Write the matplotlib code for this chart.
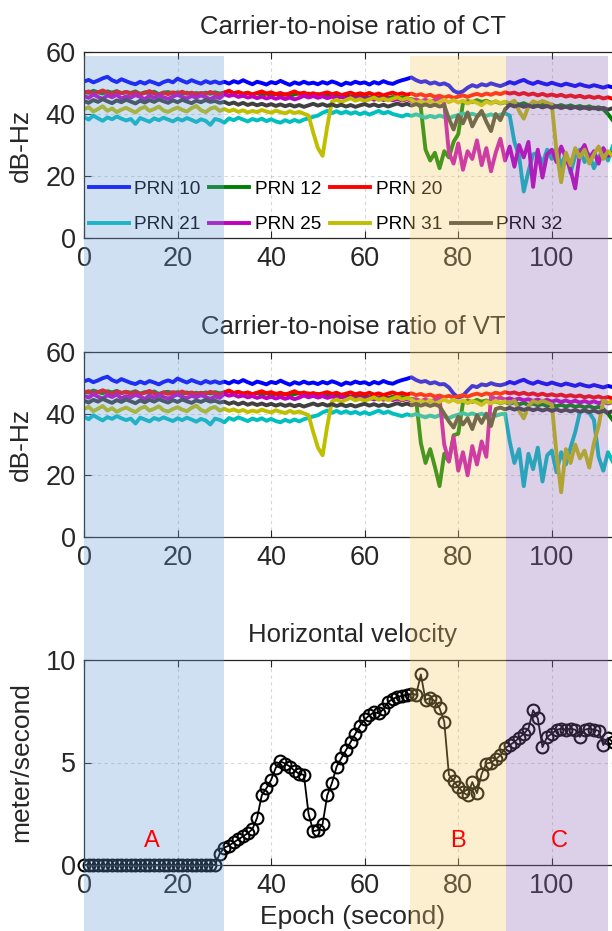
import matplotlib
matplotlib.use('Agg')
import matplotlib.pyplot as plt
import matplotlib.transforms as mtransforms
from matplotlib.patches import Rectangle
from matplotlib.lines import Line2D

plt.rcParams['font.family'] = ['Liberation Sans', 'DejaVu Sans']

# epochs in seconds
epoch = list(range(114))

# ---- C/N0 of CT (dB-Hz), one value per second ----
ct_prn10 = [50.5, 51.0, 50.2, 50.8, 51.5, 52.0, 50.9, 50.3, 51.2, 50.6,
            50.0, 49.6, 50.4, 49.8, 50.6, 50.1, 49.5, 50.3, 50.8, 50.2,
            51.4, 50.7, 50.1, 50.9, 50.3, 49.8, 50.6, 50.0, 50.5, 49.9,
            50.4, 49.8, 50.6, 50.1, 50.9, 50.2, 49.6, 50.4, 50.0, 49.5,
            50.3, 49.9, 50.7, 50.0, 49.4, 50.2, 49.7, 50.4, 49.8, 50.1,
            49.6, 50.3, 49.8, 50.5, 50.0, 49.3, 50.1, 49.7, 50.4, 49.9,
            50.2, 49.5, 50.3, 49.8, 50.6, 50.0, 49.7, 50.4, 50.9, 51.3,
            51.8, 50.9, 50.3, 50.6, 49.8, 50.2, 49.5, 49.9, 49.2, 47.5,
            46.8, 47.3, 48.5, 49.3, 48.8, 49.6, 49.2, 49.9, 49.4, 49.0,
            49.6, 50.3, 49.8, 50.5, 51.0, 50.2, 49.7, 50.4, 49.9, 49.5,
            50.1, 49.6, 49.2, 49.8, 49.4, 49.0, 49.6, 49.1, 48.8, 49.3,
            48.9, 48.5, 49.0, 48.6]
ct_prn12 = [47.2, 46.8, 47.5, 47.0, 46.6, 47.3, 46.9, 47.4, 46.7, 47.1,
            46.8, 47.3, 46.5, 47.0, 46.7, 47.2, 46.4, 46.9, 47.1, 46.6,
            47.0, 46.5, 46.9, 46.3, 46.8, 46.4, 46.9, 46.5, 47.0, 46.6,
            46.9, 47.3, 46.7, 47.0, 46.5, 46.8, 46.3, 46.7, 46.2, 46.6,
            46.1, 46.5, 46.0, 46.4, 45.9, 46.3, 46.7, 46.2, 46.6, 46.0,
            46.4, 45.8, 46.2, 45.7, 46.1, 45.6, 46.0, 45.5, 45.9, 45.4,
            45.8, 45.3, 45.7, 45.2, 45.6, 45.1, 45.5, 45.0, 45.4, 45.0,
            44.8, 44.5, 42.0, 28.5, 25.0, 27.5, 22.5, 28.0, 26.0, 31.0,
            33.5, 43.5, 44.2, 43.8, 44.5, 43.9, 44.3, 43.6, 44.0, 43.4,
            43.8, 43.2, 43.7, 43.0, 43.5, 42.8, 43.3, 42.7, 43.1, 42.5,
            43.0, 42.4, 42.9, 42.3, 42.8, 42.2, 42.6, 42.0, 42.5, 41.8,
            42.2, 41.5, 40.0, 38.0]
ct_prn20 = [46.8, 47.3, 46.5, 47.0, 47.6, 46.9, 46.4, 47.2, 46.7, 47.1,
            46.5, 47.0, 46.3, 46.8, 47.4, 46.6, 46.2, 46.9, 46.4, 47.0,
            46.6, 47.2, 46.5, 46.9, 46.3, 46.8, 46.4, 47.1, 46.6, 46.2,
            46.9, 47.5, 46.7, 47.1, 46.5, 46.9, 46.3, 46.8, 47.3, 46.6,
            47.0, 46.4, 46.8, 46.2, 46.7, 47.3, 46.5, 46.9, 46.3, 46.7,
            46.2, 46.6, 47.0, 46.4, 46.8, 46.1, 46.5, 46.9, 46.3, 46.7,
            46.3, 46.8, 46.2, 46.6, 46.0, 46.5, 46.9, 46.3, 46.7, 46.2,
            46.6, 46.0, 46.4, 45.8, 46.2, 45.5, 45.9, 45.3, 45.8, 45.2,
            45.6, 46.0, 45.5, 46.1, 46.5, 46.0, 46.6, 46.2, 46.8, 46.4,
            47.0, 46.6, 46.9, 46.3, 46.8, 46.2, 46.6, 46.0, 46.5, 45.9,
            46.3, 45.8, 46.2, 45.6, 46.0, 45.5, 45.9, 45.3, 45.7, 45.2,
            45.6, 45.0, 45.4, 44.9]
ct_prn21 = [39.0, 38.2, 39.5, 38.6, 37.8, 38.9, 38.3, 39.2, 38.5, 37.9,
            38.4, 36.8, 38.7, 38.1, 37.5, 38.6, 38.0, 38.8, 38.2, 37.6,
            38.5, 37.9, 38.7, 38.1, 37.4, 38.3, 37.8, 36.5, 38.4, 38.0,
            37.2, 38.6, 38.0, 38.8, 38.2, 37.6, 38.4, 37.9, 38.5, 37.7,
            38.3, 37.6, 37.2, 38.0, 37.4, 38.1, 37.5, 38.2, 38.6, 39.1,
            39.5, 40.4, 41.0, 40.3, 40.9, 40.2, 40.8, 40.1, 40.6, 39.9,
            40.5, 39.8, 40.4, 41.0, 40.2, 40.7, 40.0, 39.6, 39.2, 39.8,
            39.4, 39.9, 39.3, 38.8, 39.4, 38.9, 39.5, 39.0, 38.6, 39.2,
            39.7, 40.2, 39.6, 40.1, 39.5, 40.0, 39.4, 39.9, 39.3, 39.8,
            40.2, 39.5, 31.0, 26.5, 15.0, 21.5, 27.0, 27.5, 24.0, 28.5,
            25.5, 29.0, 23.0, 27.5, 21.0, 26.5, 28.5, 24.5, 27.0, 22.5,
            26.0, 28.5, 25.0, 29.5]
ct_prn25 = [45.8, 45.2, 46.3, 45.5, 44.9, 46.0, 45.4, 46.2, 45.0, 45.7,
            45.3, 46.1, 45.5, 44.8, 45.9, 45.2, 46.0, 45.4, 44.9, 45.6,
            46.2, 45.5, 45.0, 45.8, 45.3, 46.0, 45.4, 44.8, 45.6, 45.1,
            46.4, 45.8, 46.2, 45.5, 45.9, 45.3, 45.7, 45.1, 45.6, 45.0,
            45.5, 44.9, 45.4, 44.8, 45.3, 44.7, 45.2, 45.9, 45.3, 45.8,
            45.2, 45.7, 45.1, 45.6, 45.0, 45.5, 44.9, 45.4, 44.8, 45.3,
            44.7, 45.2, 44.6, 45.1, 44.5, 45.0, 44.4, 44.9, 44.3, 44.8,
            44.2, 44.7, 44.1, 44.6, 44.0, 44.5, 44.9, 43.5, 27.5, 24.0,
            30.5, 22.0, 28.0, 25.5, 31.5, 23.5, 29.0, 21.5, 27.5, 32.0,
            25.0, 29.5, 23.0, 30.0, 26.0, 31.0, 16.5, 28.5, 19.5, 27.0,
            28.5, 24.5, 29.5, 26.0, 22.0, 16.0, 27.5, 30.0, 25.5, 28.0,
            24.0, 29.0, 26.5, 27.5]
ct_prn31 = [41.5, 42.2, 40.8, 41.6, 42.5, 41.0, 41.8, 40.6, 41.4, 42.0,
            41.2, 40.5, 41.7, 42.3, 41.0, 41.6, 42.4, 41.1, 40.7, 41.5,
            42.1, 41.3, 40.8, 41.9, 42.6, 41.2, 40.6, 41.7, 42.2, 41.0,
            41.6, 40.9, 41.4, 40.7, 41.2, 40.5, 41.0, 40.6, 41.3, 40.8,
            40.4, 41.1, 40.6, 40.2, 40.9, 40.3, 40.7, 40.1, 39.5, 34.0,
            29.0, 26.5, 36.0, 44.0, 44.6, 43.9, 44.5, 45.1, 44.3, 44.8,
            44.2, 44.7, 45.3, 44.5, 45.0, 44.4, 44.9, 45.4, 44.6, 45.1,
            44.5, 43.6, 44.2, 43.5, 44.4, 43.2, 43.9, 44.6, 43.8, 44.5,
            43.7, 44.3, 43.4, 44.1, 43.6, 42.8, 44.0, 43.3, 44.2, 43.5,
            44.0, 43.4, 44.3, 41.0, 38.5, 42.5, 44.1, 43.5, 44.2, 43.6,
            43.0, 28.0, 18.0, 27.5, 23.5, 29.0, 26.0, 28.5, 24.0, 27.0,
            29.5, 25.5, 28.0, 26.5]
ct_prn32 = [44.2, 43.6, 44.5, 43.9, 44.8, 44.1, 43.5, 44.4, 43.8, 44.6,
            44.0, 43.4, 44.3, 43.7, 44.5, 43.9, 44.7, 44.1, 43.6, 44.4,
            43.8, 44.6, 44.0, 43.5, 44.3, 43.8, 44.5, 43.9, 44.2, 43.6,
            43.9, 43.2, 43.7, 43.0, 43.6, 42.9, 43.4, 42.8, 43.3, 42.7,
            43.2, 42.6, 43.1, 42.5, 43.0, 42.4, 42.9, 42.3, 42.8, 43.3,
            42.7, 43.2, 42.6, 43.1, 42.5, 43.0, 42.4, 42.9, 42.3, 42.8,
            43.2, 42.6, 43.1, 42.5, 43.0, 42.4, 42.9, 43.4, 42.8, 43.3,
            42.7, 43.2, 42.6, 43.1, 42.5, 43.0, 42.4, 42.8, 38.5, 35.0,
            39.5, 37.0, 40.5, 36.0, 39.0, 41.0, 37.5, 34.5, 40.0, 38.0,
            41.5, 43.0, 42.4, 42.9, 42.3, 42.8, 42.2, 42.7, 42.1, 42.6,
            42.0, 42.5, 41.9, 42.4, 41.8, 42.3, 41.7, 42.2, 41.6, 42.1,
            41.5, 42.0, 41.4, 41.9]

# ---- C/N0 of VT: same as CT before the blockage, own values afterwards ----
vt_prn10 = ct_prn10[:72] + [50.3, 50.6, 49.8, 50.2, 49.5, 49.6, 48.5, 46.5,
                            45.2, 45.8, 47.5, 49.0, 48.6, 49.5, 49.2, 49.9, 49.4, 49.2,
                            49.6, 50.3, 49.8, 50.5, 51.0, 50.2, 49.7, 50.4, 49.9, 49.5,
                            50.1, 49.6, 49.2, 49.8, 49.4, 49.0, 49.6, 49.1, 48.8, 49.3,
                            48.9, 48.5, 49.0, 48.6]
vt_prn12 = ct_prn12[:72] + [30.5, 24.0, 28.5, 22.8, 16.5, 27.0, 24.5, 33.0] + ct_prn12[80:]
vt_prn20 = ct_prn20
vt_prn21 = ct_prn21[:90] + [40.0, 31.0, 24.0, 28.5, 16.5, 27.0, 22.0, 29.0, 18.0, 26.5,
                            28.0, 21.0, 27.5, 23.5, 29.0, 34.0, 40.5, 41.0, 40.3, 38.0,
                            26.0, 21.5, 27.5, 24.5]
vt_prn25 = ct_prn25[:72] + [44.1, 44.6, 44.0, 44.5, 44.9, 30.0, 24.5, 32.5,
                            21.5, 27.5, 20.0, 29.5, 23.5, 31.0, 26.0, 45.5, 44.8, 45.2,
                            44.6, 45.0, 44.4, 44.9, 44.3, 44.7, 44.1, 44.6, 44.0, 44.5,
                            43.9, 44.4, 43.8, 44.3, 43.7, 44.2, 43.6, 44.1, 43.5, 44.0,
                            43.4, 43.9, 43.3, 43.8]
vt_prn31 = ct_prn31[:100] + [43.0, 27.0, 14.5, 28.5, 24.0, 30.0, 25.5, 28.0, 22.5, 30.5,
                             36.0, 44.2, 43.6, 44.0]
vt_prn32 = ct_prn32[:72] + [42.6, 43.1, 42.5, 43.0, 42.4, 40.0, 37.5, 35.5,
                            39.0, 36.5, 38.5, 35.0, 39.5, 37.0, 40.0, 36.0, 41.5, 42.0,
                            41.4, 41.9, 41.3, 41.8, 41.2, 41.7, 41.1, 41.6, 41.0, 41.5,
                            40.9, 41.4, 40.8, 41.3, 40.7, 41.2, 40.6, 41.1, 40.5, 41.0,
                            40.4, 40.9, 40.3, 40.8]

# ---- horizontal velocity (m/s) ----
vel_speed = [0, 0, 0, 0, 0, 0, 0, 0, 0, 0,
             0, 0, 0, 0, 0, 0, 0, 0, 0, 0,
             0, 0, 0, 0, 0, 0, 0, 0, 0, 0.55,
             0.85, 0.95, 1.1, 1.25, 1.4, 1.55, 1.75, 2.3, 3.4, 3.75,
             4.15, 4.75, 5.05, 4.95, 4.8, 4.6, 4.45, 4.4, 2.5, 1.65,
             1.7, 2.0, 3.4, 4.0, 4.8, 5.2, 5.6, 6.0, 6.4, 6.8,
             7.1, 7.3, 7.45, 7.4, 7.6, 7.95, 8.1, 8.2, 8.25, 8.3,
             8.35, 8.3, 9.3, 8.05, 8.15, 8.0, 7.65, 7.0, 4.4, 4.1,
             3.8, 3.55, 3.4, 4.05, 3.5, 4.45, 4.95, 5.0, 5.15, 5.35,
             5.7, 5.85, 6.0, 6.2, 6.4, 6.65, 7.55, 7.15, 5.75, 6.25,
             6.4, 6.6, 6.65, 6.6, 6.65, 6.6, 6.25, 6.6, 6.65, 6.6,
             6.55, 5.85, 6.2, 6.0]

prn_labels = ['PRN 10', 'PRN 12', 'PRN 20', 'PRN 21', 'PRN 25', 'PRN 31', 'PRN 32']
prn_colors = ['#0000ff', '#008000', '#ff0000', '#00bfbf', '#bf00bf', '#bfbf00', '#404040']

# scenario bands (seconds)
band_edges = [(0, 30), (69.7, 90.2), (90.2, 112)]
band_colors = ['#6699d9', '#f2cc66', '#8c66b3']
band_letters = ['A', 'B', 'C']
letter_pos = [14.5, 80, 101.5]

DARK = (0.15, 0.15, 0.15)

fig = plt.figure(figsize=(6.12, 9.31), dpi=100)
left, width = 84 / 612, 538 / 612
ax1 = fig.add_axes([left, 1 - 238 / 931, width, 186 / 931])
ax2 = fig.add_axes([left, 1 - 537 / 931, width, 185 / 931])
ax3 = fig.add_axes([left, 1 - 865 / 931, width, 205 / 931])


def style(ax):
    ax.set_xticks(range(0, 121, 20))
    ax.set_xlim(0, 115)
    ax.tick_params(direction='in', top=True, right=False, length=5, width=0.8,
                   labelsize=19.5, colors=DARK, pad=6)
    ax.grid(True, linestyle=(0, (3, 3)), color=DARK, alpha=0.18, linewidth=0.8)
    for s in ax.spines.values():
        s.set_color(DARK)
        s.set_linewidth(0.9)


lines = []
for ax, series, title in [(ax1, [ct_prn10, ct_prn12, ct_prn20, ct_prn21, ct_prn25, ct_prn31, ct_prn32],
                           'Carrier-to-noise ratio of CT'),
                          (ax2, [vt_prn10, vt_prn12, vt_prn20, vt_prn21, vt_prn25, vt_prn31, vt_prn32],
                           'Carrier-to-noise ratio of VT')]:
    hs = []
    for vals, c, lab in zip(series, prn_colors, prn_labels):
        h, = ax.plot(epoch, vals, color=c, linewidth=2.8, label=lab)
        hs.append(h)
    lines.append(hs)
    style(ax)
    ax.set_ylim(0, 60)
    ax.set_yticks([0, 20, 40, 60])
    ax.set_ylabel('dB-Hz', fontsize=19, color=DARK)
    ax.yaxis.set_label_coords(-0.095, 0.5)
    ax.set_title(title, fontsize=18.5, color=DARK, pad=13)

# legend: 3 entries in the first row, 4 in the second
h = lines[0]
blank = Line2D([], [], color='none')
order = [h[0], h[3], h[1], h[4], h[2], h[5], blank, h[6]]
labs = ['PRN 10', 'PRN 21', 'PRN 12', 'PRN 25', 'PRN 20', 'PRN 31', '', 'PRN 32']
ax1.legend(order, labs, ncol=4, loc='lower left', bbox_to_anchor=(0, 0), frameon=False,
           fontsize=13.7, handlelength=2.1, handletextpad=0.3, columnspacing=0.45,
           labelspacing=0.95, borderpad=0.25, borderaxespad=0)

ax3.plot(epoch, vel_speed, color='black', linewidth=1.3, marker='o', markersize=8.5,
         markerfacecolor='none', markeredgewidth=1.5, clip_on=False)
style(ax3)
ax3.set_ylim(0, 10)
ax3.set_yticks([0, 5, 10])
ax3.set_ylabel('meter/second', fontsize=19, color=DARK)
ax3.yaxis.set_label_coords(-0.095, 0.5)
ax3.set_xlabel('Epoch (second)', fontsize=19, color=DARK, labelpad=4)
ax3.set_title('Horizontal velocity', fontsize=18.5, color=DARK, pad=13)

# shaded scenario bands over all three panels
trans = mtransforms.blended_transform_factory(ax3.transData, fig.transFigure)
band_top = 1 - 56 / 931
for (x0, x1), c in zip(band_edges, band_colors):
    fig.add_artist(Rectangle((x0, 0), x1 - x0, band_top, transform=trans,
                             facecolor=c, edgecolor='none', alpha=0.3, zorder=10))

# scenario letters drawn above the bands
for let, xp in zip(band_letters, letter_pos):
    fig.text(xp, 1.15, let, transform=ax3.transData, color='red', fontsize=17,
             ha='center', va='center', zorder=11)

fig.savefig('out.png', dpi=100)
